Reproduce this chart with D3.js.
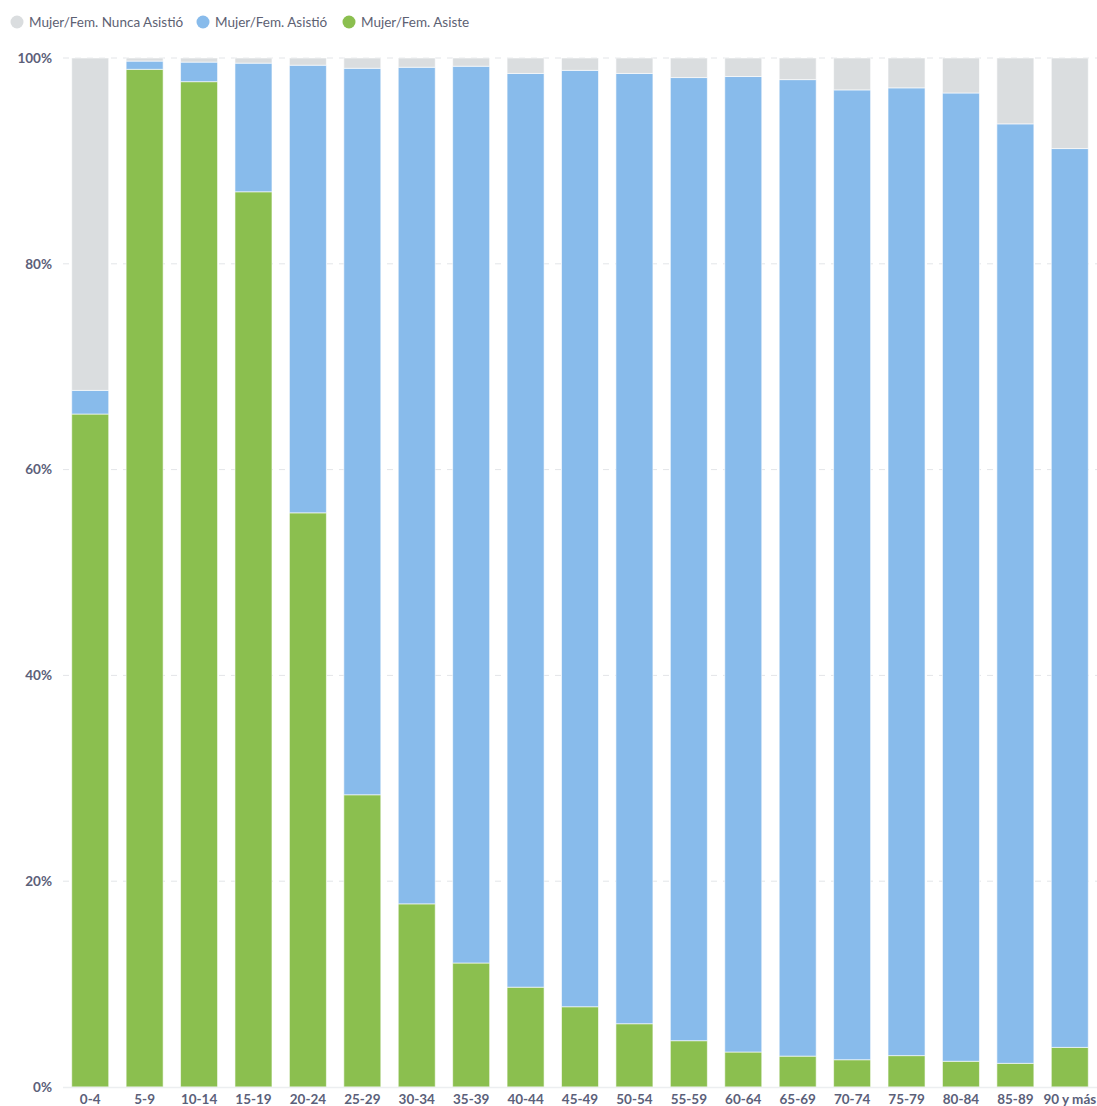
<!DOCTYPE html>
<html>
<head>
<meta charset="utf-8">
<script src="https://cdn.jsdelivr.net/npm/d3@7"></script>
<style>
  html, body { margin: 0; padding: 0; background: #fff; }
  svg { display: block; font-family: Lato, "Open Sans", sans-serif; }
</style>
</head>
<body>
<svg id="chart" width="1097" height="1106"></svg>
<script>
const categories = ["0-4","5-9","10-14","15-19","20-24","25-29","30-34","35-39","40-44","45-49","50-54","55-59","60-64","65-69","70-74","75-79","80-84","85-89","90 y más"];
const asiste  = [65.4, 98.9, 97.7, 87.0, 55.8, 28.4, 17.8, 12.05, 9.7, 7.8, 6.15, 4.5, 3.4, 3.0, 2.65, 3.05, 2.5, 2.3, 3.85];
const asistio = [2.3, 0.8, 1.9, 12.5, 43.5, 70.6, 81.3, 87.15, 88.8, 91.0, 92.35, 93.6, 94.8, 94.9, 94.25, 94.05, 94.1, 91.3, 87.35];
const nunca   = asiste.map((v, i) => +(100 - v - asistio[i]).toFixed(2));
const seriesNames = ["Mujer/Fem. Nunca Asistió", "Mujer/Fem. Asistió", "Mujer/Fem. Asiste"];
const seriesColors = ["#dadddf", "#88bbeb", "#8bbf4f"];
const yTicks = [0, 20, 40, 60, 80, 100];

const svg = d3.select("#chart");

const x = d3.scaleBand().domain(categories).range([63, 1097]).paddingInner(0.32).paddingOuter(0.16);
const y = d3.scaleLinear().domain([0, 100]).range([1087, 58]);

// gridlines
const grid = svg.append("g");
grid.selectAll("line").data(yTicks.filter(t => t > 0)).join("line")
  .attr("x1", 63).attr("x2", 1097)
  .attr("y1", d => y(d)).attr("y2", d => y(d))
  .attr("stroke", "#e3e5e8").attr("stroke-width", 1).attr("stroke-dasharray", "6,6");

// stacked data: bottom asiste, then asistio, then nunca
const rows = categories.map((c, i) => ({ cat: c, asiste: asiste[i], asistio: asistio[i], nunca: nunca[i] }));
const stack = d3.stack().keys(["asiste", "asistio", "nunca"]);
const stacked = stack(rows);
const keyColor = { asiste: seriesColors[2], asistio: seriesColors[1], nunca: seriesColors[0] };

svg.append("g").selectAll("g").data(stacked).join("g")
  .attr("fill", d => keyColor[d.key])
  .selectAll("rect").data(d => d).join("rect")
  .attr("x", d => x(d.data.cat))
  .attr("width", x.bandwidth())
  .attr("y", d => y(d[1]))
  .attr("height", d => y(d[0]) - y(d[1]))
  .attr("stroke", "rgba(255,255,255,0.6)")
  .attr("stroke-width", 1);

// baseline
svg.append("line").attr("x1", 63).attr("x2", 1097).attr("y1", y(0) + 0.5).attr("y2", y(0) + 0.5)
  .attr("stroke", "#eceef0").attr("stroke-width", 1.5);

// y axis labels
const yAxis = d3.axisLeft(y).tickValues(yTicks).tickFormat(d => d + "%").tickSize(0).tickPadding(0);
const gy = svg.append("g").attr("transform", "translate(52,0)").call(yAxis);
gy.select(".domain").remove();
gy.selectAll("text").attr("fill", "#5b6079").attr("font-size", "13.5px").attr("font-weight", "bold")
  .attr("font-family", "Lato, sans-serif");

// x axis labels
const xAxis = d3.axisBottom(x).tickSize(0).tickPadding(0);
const gx = svg.append("g").attr("transform", "translate(0,1094)").call(xAxis);
gx.select(".domain").remove();
gx.selectAll("text").attr("fill", "#5b6079").attr("font-size", "13.5px").attr("font-weight", "bold")
  .attr("font-family", "Lato, sans-serif");

// legend
const legend = svg.append("g");
const legendX = [17, 203, 349];
seriesNames.forEach((name, i) => {
  const g = legend.append("g").attr("transform", `translate(${legendX[i]},22)`);
  g.append("circle").attr("r", 6.5).attr("fill", seriesColors[i]);
  g.append("text").attr("x", 12).attr("y", 0).attr("dy", "0.35em")
    .attr("font-size", "13.5px").attr("fill", "#5d6173").text(name);
});
</script>
</body>
</html>
